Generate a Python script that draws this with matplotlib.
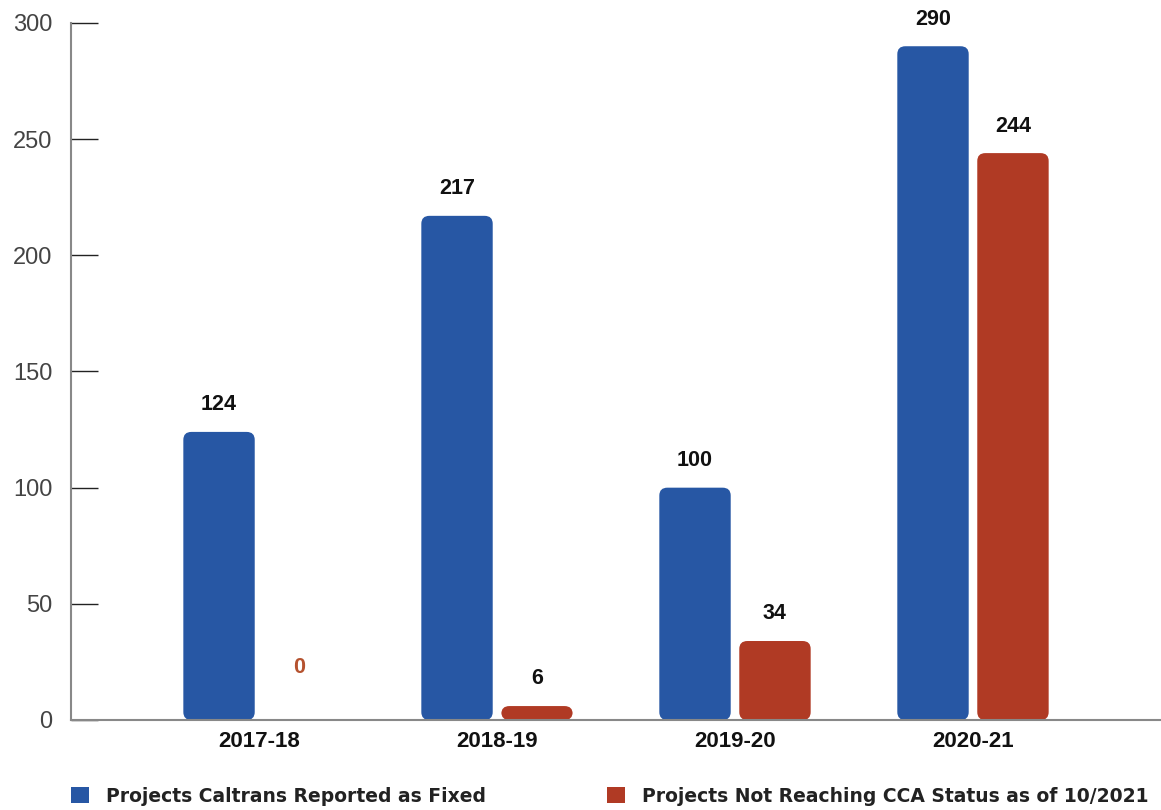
import matplotlib
matplotlib.use('Agg')
import matplotlib.pyplot as plt
from matplotlib.patches import FancyBboxPatch, Patch
import numpy as np

# Du lieu doc tu bieu do
nam = ['2017-18', '2018-19', '2019-20', '2020-21']
fixed = [124, 217, 100, 290]
not_cca = [0, 6, 34, 244]
ten_fixed = 'Projects Caltrans Reported as Fixed'
ten_cca = 'Projects Not Reaching CCA Status as of 10/2021'

mau_xanh = '#2757a4'
mau_do = '#b03a24'

fig = plt.figure(figsize=(11.61, 8.10), dpi=100)
ax = fig.add_axes([71 / 1161, 1 - 720 / 810, 1 - 71 / 1161, (720 - 23) / 810])

x = np.arange(len(nam))
w = 0.30
lech = 0.168
cot1 = ax.bar(x - lech, fixed, w, color=mau_xanh)
cot2 = ax.bar(x + lech, not_cca, w, color=mau_do)

# bo goc cot
for cots in (cot1, cot2):
    for r in cots:
        r.set_visible(False)
        if r.get_height() <= 0:
            continue
        p = FancyBboxPatch((r.get_x(), r.get_y()), r.get_width(), r.get_height(),
                           boxstyle='round,pad=0,rounding_size=0.034',
                           mutation_aspect=100, facecolor=r.get_facecolor(),
                           edgecolor='none', zorder=2)
        ax.add_patch(p)

# nhan gia tri
for xi, v in zip(x - lech, fixed):
    ax.annotate(str(v), (xi, v), xytext=(0, 19.5), textcoords='offset points',
                ha='center', va='center', fontsize=15.5, fontweight='bold',
                family='Liberation Sans', color='#111111')
for xi, v in zip(x + lech, not_cca):
    if v == 0:
        ax.annotate(str(v), (xi, v), xytext=(0, 37.5), textcoords='offset points',
                    ha='center', va='center', fontsize=15.5, fontweight='bold',
                    family='Liberation Sans', color='#b5522f')
    else:
        ax.annotate(str(v), (xi, v), xytext=(0, 19.5), textcoords='offset points',
                    ha='center', va='center', fontsize=15.5, fontweight='bold',
                    family='Liberation Sans', color='#111111')

ax.set_xlim(-0.79, 3.79)
ax.set_ylim(0, 300)
ax.set_yticks([0, 50, 100, 150, 200, 250, 300])
ax.set_xticks(x)
ax.set_xticklabels(nam, fontsize=16, fontweight='bold', family='Liberation Sans',
                   color='#111111')
for t in ax.get_yticklabels():
    t.set_family('Liberation Sans')
ax.tick_params(axis='y', direction='in', length=19.5, width=1, color='#222222',
               labelsize=17, labelcolor='#444444', pad=13.5)
ax.tick_params(axis='x', length=0, pad=8)

for s in ['top', 'right']:
    ax.spines[s].set_visible(False)
for s in ['left', 'bottom']:
    ax.spines[s].set_color('#888888')
    ax.spines[s].set_linewidth(1.5)

# chu thich
for ten, mau, vx in [(ten_fixed, mau_xanh, 71 / 1161), (ten_cca, mau_do, 607 / 1161)]:
    lg = fig.legend(handles=[Patch(facecolor=mau, edgecolor='none', label=ten)],
                    loc='center left', bbox_to_anchor=(vx, 1 - 796 / 810),
                    frameon=False, handlelength=0.95, handleheight=0.95,
                    handletextpad=0.9, borderpad=0, borderaxespad=0,
                    prop={'family': 'DejaVu Sans', 'weight': 'bold', 'size': 13.5})
    for t in lg.get_texts():
        t.set_color('#222222')

fig.savefig('out.png', dpi=100)
